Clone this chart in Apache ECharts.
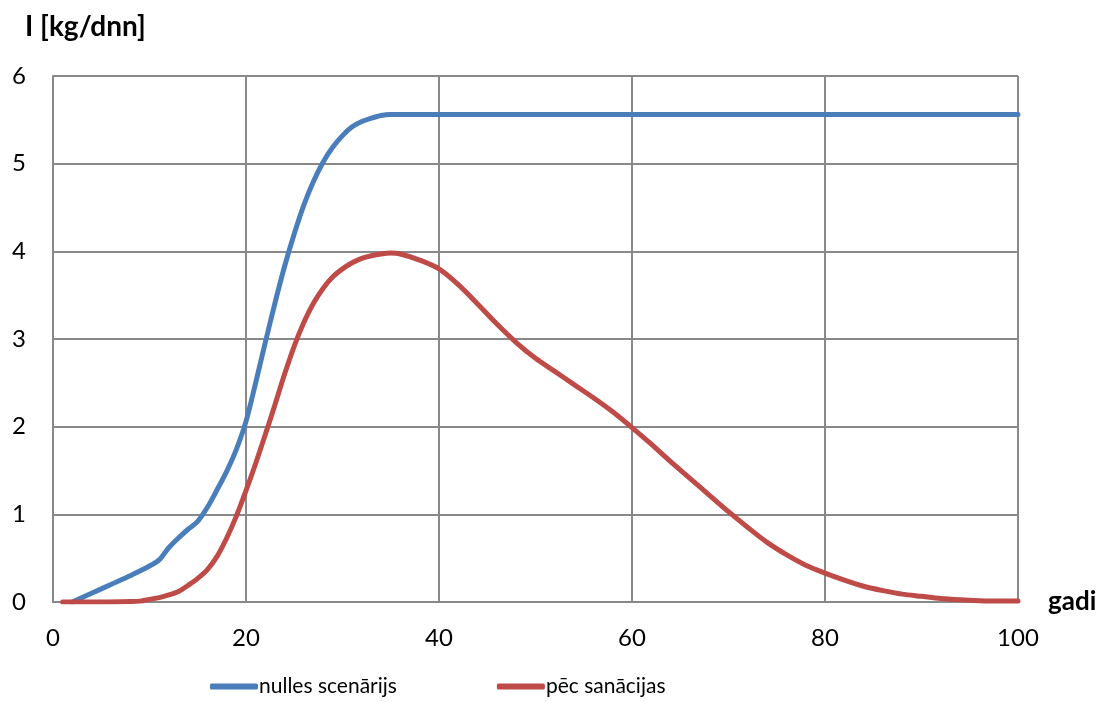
<!DOCTYPE html>
<html>
<head>
<meta charset="utf-8">
<script src="https://cdn.jsdelivr.net/npm/echarts@6/dist/echarts.min.js"></script>
<style>
html,body{margin:0;padding:0;background:#fff;}
#chart{width:1103px;height:702px;}
</style>
</head>
<body>
<div id="chart"></div>
<script>
// Data
const seriesNames = ["nulles scenārijs", "pēc sanācijas"];

const nullesYears = [2,4,6,8,10,11,12,13,14,15,16,17,18,19,20,21,22,23,24,25,26,27,28,29,30,31,32,33,34,35,36,40,50,60,70,80,90,100];
const nullesValues = [0,0.1,0.2,0.3,0.41,0.48,0.62,0.73,0.83,0.92,1.08,1.28,1.49,1.74,2.06,2.5,2.96,3.41,3.83,4.2,4.53,4.8,5.02,5.19,5.32,5.42,5.48,5.52,5.55,5.56,5.56,5.56,5.56,5.56,5.56,5.56,5.56,5.56];

const sanacYears = [1,5,8,9,10,11,12,13,14,15,16,17,18,19,20,21,22,23,24,25,26,27,28,29,30,31,32,33,34,35,36,38,40,42,44,46,48,50,52,54,56,58,60,62,64,66,68,70,72,74,76,78,80,82,84,86,88,90,92,94,96,98,100];
const sanacValues = [0,0,0.005,0.01,0.03,0.05,0.08,0.12,0.19,0.27,0.37,0.52,0.73,0.98,1.27,1.58,1.91,2.25,2.6,2.92,3.19,3.41,3.58,3.71,3.8,3.87,3.92,3.95,3.97,3.98,3.97,3.9,3.8,3.62,3.4,3.17,2.96,2.78,2.63,2.48,2.33,2.17,1.99,1.8,1.6,1.41,1.22,1.03,0.85,0.68,0.54,0.42,0.33,0.25,0.18,0.13,0.09,0.065,0.04,0.025,0.015,0.01,0.01];

const xTicks = [0,20,40,60,80,100];
const yTicks = [0,1,2,3,4,5,6];

const zip = (xs, ys) => xs.map((x, i) => [x, ys[i]]);

const FONT = 'Lato, "Noto Sans", sans-serif';
const GRID = '#898989';

const chart = echarts.init(document.getElementById('chart'), null, {renderer: 'canvas'});
chart.setOption({
  animation: false,
  backgroundColor: '#ffffff',
  grid: {left: 53, right: 85, top: 76, bottom: 100, containLabel: false},
  xAxis: {
    type: 'value',
    min: xTicks[0], max: xTicks[xTicks.length - 1], interval: 20,
    name: 'gadi', nameLocation: 'end', nameGap: 30,
    nameTextStyle: {fontFamily: FONT, fontWeight: 'bold', fontSize: 26, color: '#000', verticalAlign: 'middle', padding: [0,0,10,0]},
    axisLine: {show: true, lineStyle: {color: GRID, width: 2}},
    axisTick: {show: false},
    axisLabel: {fontFamily: FONT, fontSize: 24, color: '#000', margin: 24},
    splitLine: {show: true, lineStyle: {color: GRID, width: 2}}
  },
  yAxis: {
    type: 'value',
    min: yTicks[0], max: yTicks[yTicks.length - 1], interval: 1,
    axisLine: {show: true, lineStyle: {color: GRID, width: 2}},
    axisTick: {show: false},
    axisLabel: {fontFamily: FONT, fontSize: 24, color: '#000', margin: 27},
    splitLine: {show: true, lineStyle: {color: GRID, width: 2}}
  },
  legend: {
    bottom: 0,
    left: 205,
    itemGap: 100,
    itemWidth: 48,
    itemHeight: 6,
    icon: 'roundRect',
    textStyle: {fontFamily: FONT, fontSize: 21, color: '#000', padding: [0,0,0,-4]},
    data: seriesNames
  },
  graphic: [{
    type: 'text', left: 25, top: 13,
    style: {text: 'I [kg/dnn]', font: 'bold 28px ' + FONT, fill: '#000'}
  }],
  series: [
    {
      name: seriesNames[0], type: 'line', data: zip(nullesYears, nullesValues),
      smooth: 0.3, showSymbol: false,
      lineStyle: {color: '#4A7EBB', width: 5, cap: 'round'}, itemStyle: {color: '#4A7EBB'}
    },
    {
      name: seriesNames[1], type: 'line', data: zip(sanacYears, sanacValues),
      smooth: 0.3, showSymbol: false,
      lineStyle: {color: '#BE4B48', width: 5, cap: 'round'}, itemStyle: {color: '#BE4B48'}
    }
  ]
});
</script>
</body>
</html>
